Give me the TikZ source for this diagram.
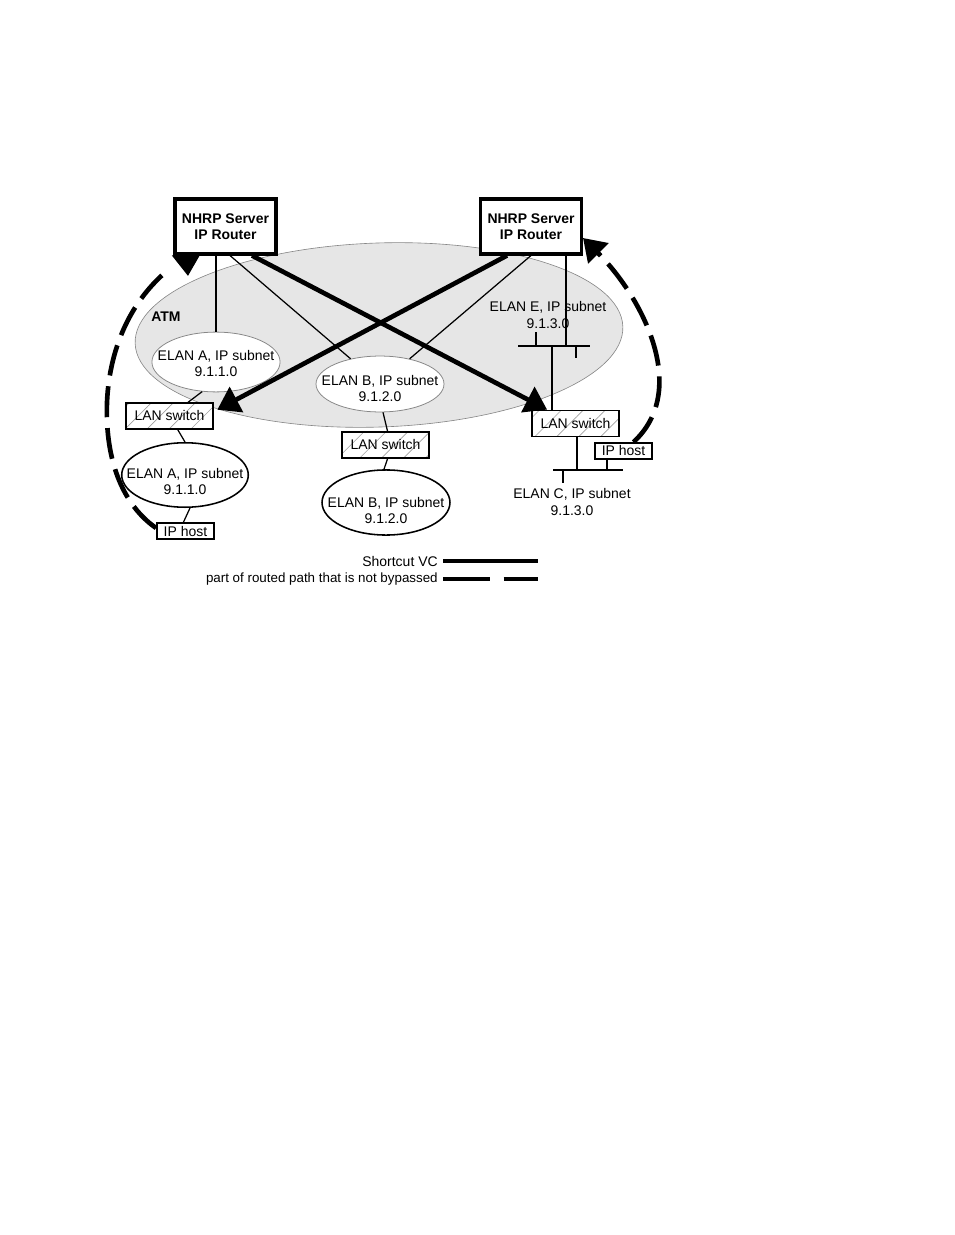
\documentclass[tikz,border=0pt]{standalone}
\usepackage{fontspec}
\setmainfont{Liberation Sans}
\usetikzlibrary{shapes.geometric,arrows.meta,patterns.meta,calc}
\definecolor{atmgray}{RGB}{230,230,230}
\definecolor{rimgray}{RGB}{135,135,135}
\definecolor{hatchgray}{RGB}{160,160,160}
% two centred lines that do not widen the ellipse round them
\newcommand{\elantext}[3][-3.4pt]{\makebox[0pt]{\raisebox{#1}[0pt][0pt]{\begin{tabular}{@{}c@{}}#2\\#3\end{tabular}}}}

\begin{document}
\begin{tikzpicture}[x=0.6439pt,y=-0.6439pt,
    font=\fontsize{9}{10.5}\selectfont,
    router/.style={draw,line width=2pt,fill=white,align=center,font=\fontsize{9}{10.5}\selectfont\bfseries,
      minimum width=65pt,minimum height=35.4pt,inner sep=1pt},
    elanin/.style={ellipse,draw=rimgray,line width=0.5pt,fill=white,
      minimum width=82.5pt,minimum height=38.5pt,inner sep=0pt},
    elanout/.style={ellipse,draw,line width=1pt,fill=white,
      minimum width=81.5pt,minimum height=41.5pt,inner sep=0pt},
    lanswitch/.style={draw,line width=1.2pt,preaction={fill=white},
      pattern={Lines[angle=45,distance=10pt,line width=0.4pt]},pattern color=hatchgray,
      minimum width=56pt,minimum height=16.7pt,inner sep=0pt},
    iphost/.style={draw,line width=1.2pt,fill=white,minimum width=36.7pt,minimum height=10.3pt,inner sep=0pt},
    thinline/.style={line width=0.8pt},
    bigtip/.style={-{Triangle[length=14pt,width=18pt]}},
    shortcut/.style={line width=3pt,bigtip},
    routed/.style={line width=3pt,dash pattern=on 20pt off 7pt}]
    \useasboundingbox (0,0) rectangle (954,1235);

    % ATM cloud
    \draw[fill=atmgray,draw=rimgray,line width=0.4pt,rotate around={2:(379,335)}] (379,335) ellipse [x radius=244,y radius=92];
    \node[font=\fontsize{9}{10.5}\selectfont\bfseries] (atm) at (166,317) {ATM};

    % NHRP servers
    \node[router] (rtrA) at (225.5,226.5) {NHRP Server\\IP Router};
    \node[router] (rtrB) at (531,226.5) {NHRP Server\\IP Router};

    % ELANs inside ATM
    \node[elanin] (upA) at (216,362) {\elantext[-4.4pt]{ELAN A, IP subnet}{9.1.1.0}};
    \node[elanin,minimum width=82.4pt,minimum height=36pt] (upB) at (380,384) {\elantext[-6.4pt]{ELAN B, IP subnet}{9.1.2.0}};
    \node[align=center] (elanE) at (548,315) {ELAN E, IP subnet\\9.1.3.0};

    % ELAN E bus
    \coordinate (busEl) at (518,346);
    \coordinate (busEr) at (590,346);
    \coordinate (busEtap) at (566,346);
    \coordinate (busEdrop) at (552,346);
    \draw[thinline] (busEl) -- (busEr);
    \draw[thinline] (busEl) ++(18,0) -- ++(0,-14);
    \draw[thinline] (busEr) ++(-14,0) -- ++(0,12);

    % LAN switches
    \node[lanswitch] (lanA) at (169.5,416) {LAN switch};
    \node[lanswitch] (lanB) at (385.5,445) {LAN switch};
    \node[lanswitch] (lanC) at (575.5,423.5) {LAN switch};

    % ELANs outside ATM
    \node[elanout] (lowA) at (185,475) {\elantext[-7.5pt]{ELAN A, IP subnet}{9.1.1.0}};
    \node[elanout,minimum width=82.4pt,minimum height=41.9pt] (lowB) at (386,502.5) {\elantext[-8.4pt]{ELAN B, IP subnet}{9.1.2.0}};
    \node[align=center] (elanC) at (572,502) {ELAN C, IP subnet\\9.1.3.0};

    % IP hosts
    \node[iphost] (hostA) at (185.5,531) {IP host};
    \node[iphost] (hostC) at (623.5,451) {IP host};

    % ELAN C bus
    \coordinate (busCl) at (553,470);
    \coordinate (busCr) at (623,470);
    \coordinate (busCtap) at (577,470);
    \coordinate (busChost) at (607,470);
    \draw[thinline] (busCl) -- (busCr);
    \draw[thinline] (busCl) ++(10,0) -- ++(0,13);
    \draw[thinline] (busCtap |- lanC.south) -- (busCtap);
    \draw[thinline] (busChost |- hostC.south) -- (busChost);

    % thin links
    \draw[thinline] (upA.north |- rtrA.south) -- (upA.north);
    \draw[thinline] ($(rtrA.south)+(4.5,0)$) -- (upB);
    \draw[thinline] (rtrB.south) -- (upB);
    \draw[thinline] (busEtap |- rtrB.south) -- (busEtap);
    \draw[thinline] (busEdrop) -- (busEdrop |- lanC.north);
    \draw[thinline] (upA.-115) -- ($(lanA.north)+(18,0)$);
    \draw[thinline] ($(lanA.south)+(8,0)$) -- (lowA.north);
    \draw[thinline] ($(lowA.south)+(5,0)$) -- ($(hostA.north)+(-2,0)$);
    \draw[thinline] ($(upB.south)+(3,0)$) -- ($(lanB.north)+(2,0)$);
    \draw[thinline] ($(lanB.south)+(2,0)$) -- ($(lowB.north)+(-2,0)$);

    % Shortcut VCs
    \draw[shortcut] ($(rtrA.south)+(26.5,0)$) -- ($(lanC.north west)+(16,0)$);
    \draw[shortcut] ($(rtrB.south)+(-24,0)$) -- ($(lanA.north east)+(4,7)$);

    % routed path
    \coordinate (retA) at (168,270);
    \coordinate (tipA) at (188,276);
    \coordinate (tipB) at (583,238);
    \draw[routed] ($(hostA.west)+(0,-3)$) .. controls (130,510) and (109,475) .. (107,420)
      .. controls (105,370) and (120,310) .. (retA);
    \draw[line width=3pt,bigtip] ($(rtrA.south west)+(13,0)$) -- (tipA);
    \draw[routed,bigtip] ($(hostC.north)+(10,0)$) .. controls (690,390) and (643,298) .. (tipB);

    % Legend
    \node[anchor=east,inner sep=0pt] (lgshort) at (438,561) {Shortcut VC};
    \coordinate (lgshortend) at (538,561);
    \draw[line width=3pt] ($(lgshort.east)+(5,0)$) -- (lgshortend);
    \node[anchor=east,inner sep=0pt,font=\fontsize{8.6}{10}\selectfont] (lgrouted) at (438,579) {part of routed path that is not bypassed};
    \coordinate (lgroutedend) at (538,579);
    \draw[line width=3pt,dash pattern=on 30pt off 9pt] ($(lgrouted.east)+(5,0)$) -- (lgroutedend);
\end{tikzpicture}
\end{document}
